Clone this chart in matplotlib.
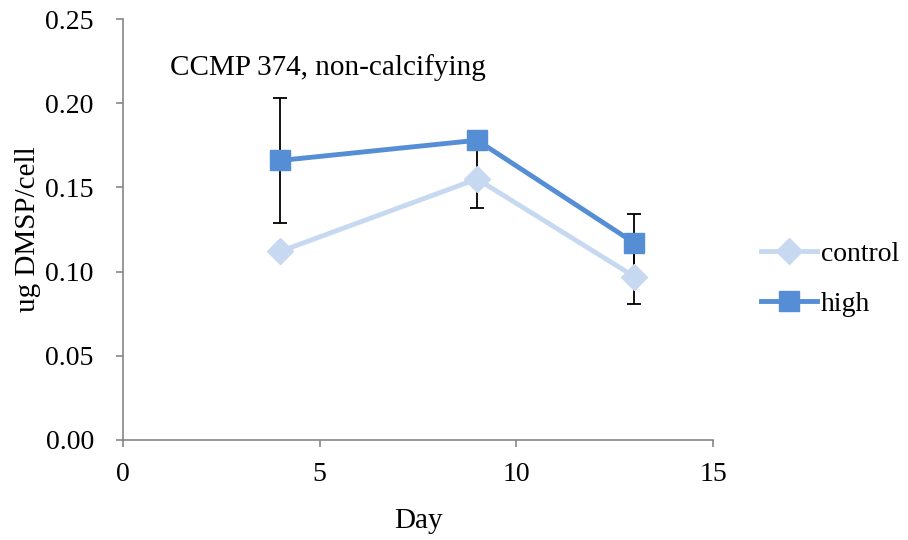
import matplotlib
matplotlib.use("Agg")
import matplotlib.pyplot as plt
from matplotlib.lines import Line2D

days = [4, 9, 13]
control = [0.112, 0.155, 0.097]
control_err = [0.0, 0.017, 0.016]
high = [0.166, 0.178, 0.117]
high_err = [0.037, 0.0, 0.017]
xticks = [0, 5, 10, 15]
yticks = [0.00, 0.05, 0.10, 0.15, 0.20, 0.25]

c_control = "#c6d9f1"
c_high = "#558ed5"
gray = "#868686"

plt.rcParams['font.family'] = ['Liberation Serif', 'DejaVu Serif']

fig = plt.figure(figsize=(9.08, 5.4), dpi=100)
ax = fig.add_axes([0.1355, 0.1852, 0.6498, 0.7796])

ax.errorbar(days, control, yerr=control_err, fmt='none', ecolor='black',
            elinewidth=1.3, capsize=4.7, capthick=1.3, zorder=1)
ax.errorbar(days, high, yerr=high_err, fmt='none', ecolor='black',
            elinewidth=1.3, capsize=4.7, capthick=1.3, zorder=1)
ax.plot(days, control, color=c_control, lw=3.5, marker='D', markersize=13,
        markeredgecolor=c_control, zorder=3, label='control')
ax.plot(days, high, color=c_high, lw=3.5, marker='s', markersize=14.5,
        markeredgecolor=c_high, zorder=4, label='high')

ax.set_xlim(0, 15)
ax.set_ylim(0, 0.25)
ax.set_xticks(xticks)
ax.set_xticklabels([str(v) for v in xticks])
ax.set_yticks(yticks)
ax.set_yticklabels([f"{v:.2f}" for v in yticks])
for s in ['top', 'right']:
    ax.spines[s].set_visible(False)
for s in ['left', 'bottom']:
    ax.spines[s].set_color(gray)
    ax.spines[s].set_linewidth(1.2)
ax.tick_params(axis='both', colors=gray, labelcolor='black', labelsize=20,
               length=5, width=1.2, direction='out')
ax.tick_params(axis='x', pad=11)
ax.tick_params(axis='y', pad=16)
ax.set_xlabel('Day', fontsize=21, labelpad=15)
ax.set_ylabel('ug DMSP/cell', fontsize=21, labelpad=3)

ax.text(0.08, 0.885, 'CCMP 374, non-calcifying', transform=ax.transAxes,
        fontsize=21, ha='left', va='center')

handles = [Line2D([], [], color=c_control, lw=3.5, marker='D', markersize=13,
                  markeredgecolor=c_control),
           Line2D([], [], color=c_high, lw=3.5, marker='s', markersize=14.5,
                  markeredgecolor=c_high)]
fig.legend(handles, ['control', 'high'], loc='center left',
           bbox_to_anchor=(0.811, 0.483), frameon=False, fontsize=20,
           handlelength=2.0, handletextpad=0.15, labelspacing=0.9)

fig.savefig('out.png', dpi=100)
